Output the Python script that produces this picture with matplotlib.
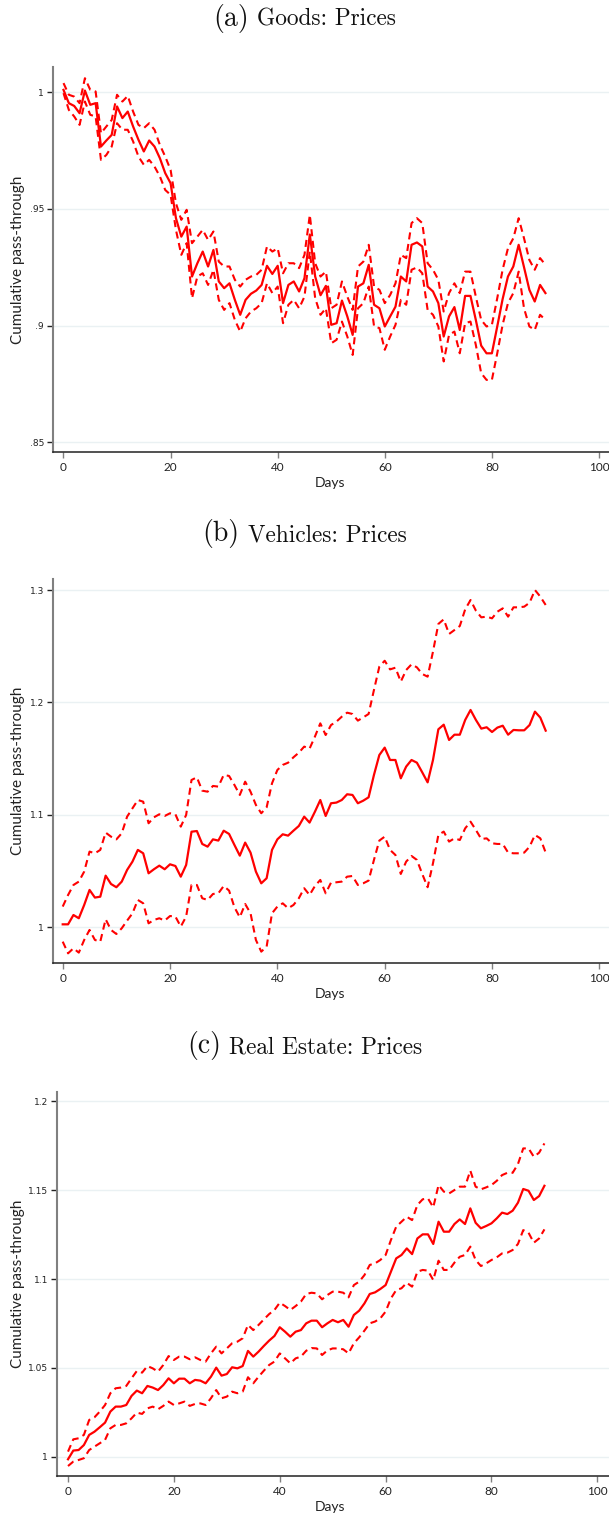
import numpy as np
import matplotlib
matplotlib.use("Agg")
import matplotlib.pyplot as plt

days = np.arange(91)

# ---- Panel (a) Goods: Prices ----
goods_est = [1.001, 0.9953, 0.9941, 0.991, 1.0007, 0.9946, 0.9953, 0.9767, 0.9793, 0.9817,
             0.9939, 0.9889, 0.9917, 0.9853, 0.9796, 0.9746, 0.9793, 0.9767, 0.9717, 0.9653,
             0.961, 0.946, 0.9381, 0.9424, 0.921, 0.9267, 0.9317, 0.9253, 0.9324, 0.9189,
             0.916, 0.9181, 0.911, 0.9046, 0.911, 0.9136, 0.915, 0.9174, 0.9256, 0.9221,
             0.9256, 0.9096, 0.9174, 0.9189, 0.9146, 0.9203, 0.939, 0.921, 0.913, 0.917,
             0.9003, 0.901, 0.9107, 0.9039, 0.896, 0.9167, 0.9181, 0.926, 0.9089, 0.9074,
             0.8996, 0.9039, 0.9081, 0.921, 0.9189, 0.9346, 0.9356, 0.9339, 0.9167, 0.9146,
             0.9096, 0.8953, 0.9039, 0.9079, 0.8981, 0.9127, 0.9127, 0.9024, 0.8914, 0.8881,
             0.8881, 0.8996, 0.9113, 0.921, 0.9253, 0.9346, 0.925, 0.9153, 0.9103, 0.9174,
             0.9139]
goods_hi = [1.0039, 0.9989, 0.9981, 0.9953, 1.006, 1.001, 1.0003, 0.9824, 0.9853, 0.9881,
            0.9989, 0.996, 0.9984, 0.9917, 0.986, 0.9846, 0.9867, 0.9839, 0.9774, 0.9724,
            0.9667, 0.9524, 0.9453, 0.9496, 0.9353, 0.9381, 0.941, 0.9367, 0.9403, 0.9274,
            0.9253, 0.9253, 0.9196, 0.9167, 0.9196, 0.921, 0.9217, 0.9239, 0.9339, 0.9317,
            0.9331, 0.9224, 0.9267, 0.9267, 0.9246, 0.9303, 0.9474, 0.9267, 0.921, 0.9231,
            0.9074, 0.9089, 0.9189, 0.9124, 0.9067, 0.9253, 0.9274, 0.9346, 0.9167, 0.9153,
            0.9096, 0.9131, 0.9181, 0.9303, 0.9289, 0.9439, 0.946, 0.9439, 0.9267, 0.9239,
            0.9196, 0.906, 0.9139, 0.9181, 0.9139, 0.9231, 0.9231, 0.9124, 0.9024, 0.8996,
            0.9003, 0.9117, 0.9239, 0.9331, 0.9374, 0.946, 0.9374, 0.9281, 0.9239, 0.9289,
            0.926]
goods_lo = [0.9996, 0.9924, 0.9896, 0.986, 0.996, 0.9903, 0.9896, 0.971, 0.9731, 0.9767,
            0.9867, 0.9839, 0.9839, 0.9789, 0.9724, 0.9689, 0.971, 0.9681, 0.9639, 0.9581,
            0.956, 0.941, 0.9303, 0.9353, 0.9117, 0.921, 0.9224, 0.9174, 0.9239, 0.911,
            0.9067, 0.9096, 0.9024, 0.8974, 0.9031, 0.906, 0.9074, 0.9096, 0.9181, 0.9139,
            0.9167, 0.901, 0.9089, 0.911, 0.9074, 0.9124, 0.9317, 0.9117, 0.9046, 0.9074,
            0.8924, 0.8939, 0.9017, 0.8953, 0.8874, 0.9074, 0.9096, 0.9167, 0.8996, 0.8989,
            0.8896, 0.8953, 0.9003, 0.911, 0.9089, 0.9239, 0.9249, 0.9224, 0.9067, 0.9046,
            0.8996, 0.8846, 0.896, 0.8974, 0.8881, 0.901, 0.9017, 0.8917, 0.8796, 0.8767,
            0.8767, 0.8881, 0.9003, 0.9096, 0.9139, 0.9231, 0.9074, 0.8996, 0.8981, 0.9046,
            0.9024]

# ---- Panel (b) Vehicles: Prices ----
veh_est = [1.0026, 1.0026, 1.0109, 1.008, 1.0198, 1.0332, 1.0264, 1.0272, 1.0459, 1.0385,
           1.0356, 1.0406, 1.051, 1.0584, 1.0688, 1.0658, 1.048, 1.0516, 1.0548, 1.0516,
           1.056, 1.0545, 1.045, 1.0554, 1.085, 1.0856, 1.0741, 1.0717, 1.0782, 1.0771,
           1.0859, 1.083, 1.0732, 1.0637, 1.0753, 1.0664, 1.0495, 1.0391, 1.0436, 1.0688,
           1.0782, 1.0827, 1.0815, 1.0859, 1.0901, 1.0984, 1.0931, 1.1028, 1.1132, 1.099,
           1.1103, 1.1109, 1.1132, 1.1183, 1.1177, 1.1103, 1.1126, 1.1156, 1.1355, 1.1532,
           1.1598, 1.1488, 1.1488, 1.1325, 1.1429, 1.1488, 1.1464, 1.1378, 1.1289, 1.1488,
           1.1761, 1.1802, 1.1666, 1.1713, 1.1713, 1.1844, 1.1933, 1.1844, 1.1767, 1.1779,
           1.1737, 1.1776, 1.1793, 1.1713, 1.1755, 1.1752, 1.1752, 1.1799, 1.1918, 1.1865,
           1.1749]
veh_hi = [1.0184, 1.0287, 1.0376, 1.0406, 1.0495, 1.0673, 1.0658, 1.0688, 1.0842, 1.0806,
          1.0782, 1.0836, 1.0984, 1.1058, 1.1132, 1.1117, 1.0925, 1.0978, 1.1005, 1.099,
          1.1014, 1.1005, 1.0895, 1.0999, 1.131, 1.1334, 1.1215, 1.1206, 1.1257, 1.1251,
          1.1355, 1.1346, 1.1266, 1.1177, 1.1295, 1.1206, 1.1088, 1.1014, 1.1067, 1.128,
          1.1399, 1.1444, 1.1464, 1.1512, 1.1553, 1.1607, 1.1589, 1.1696, 1.1814, 1.171,
          1.1799, 1.1829, 1.1873, 1.1909, 1.1897, 1.1838, 1.1867, 1.1897, 1.2111, 1.2318,
          1.2371, 1.2294, 1.2309, 1.2185, 1.2288, 1.2339, 1.2312, 1.2253, 1.2229, 1.2452,
          1.2698, 1.2739, 1.2609, 1.2644, 1.268, 1.2828, 1.2911, 1.2816, 1.2757, 1.2763,
          1.2748, 1.2807, 1.2837, 1.2763, 1.2846, 1.2846, 1.2852, 1.2887, 1.3, 1.2941,
          1.2867]
veh_lo = [0.9872, 0.9768, 0.9813, 0.9774, 0.9887, 0.9976, 0.9887, 0.9872, 1.0071, 0.9976,
          0.994, 0.9991, 1.0059, 1.0124, 1.0243, 1.0213, 1.0035, 1.0065, 1.008, 1.0059,
          1.01, 1.0095, 1.0006, 1.0095, 1.0376, 1.0376, 1.0258, 1.0243, 1.0296, 1.0302,
          1.0367, 1.0326, 1.0178, 1.0089, 1.0207, 1.0124, 0.9887, 0.9783, 0.9828, 1.0124,
          1.0184, 1.0213, 1.0169, 1.0198, 1.0258, 1.0347, 1.0287, 1.0367, 1.0421, 1.0302,
          1.0397, 1.04, 1.0406, 1.045, 1.0456, 1.0376, 1.0391, 1.0415, 1.0599, 1.0771,
          1.0806, 1.0688, 1.0643, 1.0474, 1.0584, 1.0634, 1.0599, 1.0474, 1.0356, 1.0569,
          1.0821, 1.0851, 1.0762, 1.0791, 1.0776, 1.088, 1.0939, 1.0865, 1.0785, 1.0791,
          1.0747, 1.0741, 1.0741, 1.0664, 1.0658, 1.0658, 1.0664, 1.0717, 1.0821, 1.0791,
          1.0664]

# ---- Panel (c) Real Estate: Prices ----
re_est = [0.9987, 1.0036, 1.0039, 1.0067, 1.0124, 1.0142, 1.0167, 1.0193, 1.0255, 1.0283,
          1.0283, 1.0292, 1.0343, 1.0373, 1.0358, 1.0399, 1.039, 1.0376, 1.0404, 1.0442,
          1.0414, 1.044, 1.044, 1.0414, 1.0433, 1.0429, 1.0414, 1.0451, 1.0502, 1.0457,
          1.0466, 1.0504, 1.0498, 1.0511, 1.0596, 1.0564, 1.0592, 1.0624, 1.0654, 1.068,
          1.0729, 1.0704, 1.0676, 1.0704, 1.0713, 1.0751, 1.0766, 1.0766, 1.0729, 1.0751,
          1.077, 1.0757, 1.077, 1.0732, 1.0798, 1.0822, 1.0863, 1.0916, 1.0925, 1.0944,
          1.0966, 1.1041, 1.1116, 1.1135, 1.1172, 1.114, 1.1228, 1.1251, 1.1251, 1.1197,
          1.1322, 1.1266, 1.1266, 1.1309, 1.1335, 1.1309, 1.1397, 1.1316, 1.1285, 1.1298,
          1.1313, 1.1341, 1.1373, 1.1365, 1.1384, 1.1429, 1.1506, 1.1496, 1.1444, 1.1466,
          1.1524]
re_hi = [1.003, 1.0099, 1.0105, 1.0124, 1.0208, 1.0223, 1.0255, 1.0292, 1.0358, 1.0386,
         1.039, 1.0399, 1.0442, 1.0483, 1.0474, 1.0511, 1.0498, 1.0479, 1.0517, 1.0567,
         1.0545, 1.0564, 1.0564, 1.0549, 1.056, 1.0545, 1.0536, 1.0582, 1.062, 1.0582,
         1.061, 1.0639, 1.0648, 1.0667, 1.0742, 1.0713, 1.0742, 1.0773, 1.0803, 1.0826,
         1.0867, 1.0848, 1.0826, 1.0848, 1.0873, 1.0916, 1.0923, 1.0919, 1.0886, 1.091,
         1.0929, 1.0929, 1.0923, 1.0897, 1.0966, 1.0985, 1.1022, 1.1079, 1.1088, 1.1107,
         1.1135, 1.1219, 1.1294, 1.1322, 1.135, 1.1331, 1.1416, 1.1448, 1.1453, 1.1403,
         1.1528, 1.1491, 1.1481, 1.15, 1.1519, 1.1519, 1.1609, 1.1519, 1.1504, 1.1515,
         1.1528, 1.1552, 1.1584, 1.1597, 1.1597, 1.1646, 1.1734, 1.1734, 1.1687, 1.171,
         1.1762]
re_lo = [0.9949, 0.9974, 0.9983, 0.9993, 1.0039, 1.0058, 1.0077, 1.0096, 1.0161, 1.018,
         1.018, 1.0189, 1.0217, 1.0249, 1.0242, 1.0273, 1.0283, 1.0268, 1.0287, 1.0311,
         1.0292, 1.0301, 1.0311, 1.0287, 1.0298, 1.0301, 1.0292, 1.033, 1.0376, 1.033,
         1.0339, 1.0367, 1.0358, 1.0367, 1.0448, 1.0414, 1.0451, 1.0485, 1.0517, 1.0536,
         1.0582, 1.0554, 1.0526, 1.0554, 1.0564, 1.0597, 1.0612, 1.061, 1.0573, 1.0599,
         1.061, 1.061, 1.0605, 1.0582, 1.0639, 1.0672, 1.071, 1.0751, 1.0761, 1.0779,
         1.0817, 1.0891, 1.0938, 1.0948, 1.0979, 1.0957, 1.1041, 1.1051, 1.1047, 1.0994,
         1.1103, 1.1051, 1.1051, 1.1092, 1.1125, 1.1135, 1.1182, 1.1107, 1.1073, 1.1088,
         1.1107, 1.1122, 1.1144, 1.1148, 1.1163, 1.1197, 1.1275, 1.126, 1.1204, 1.1228,
         1.1279]

panel_labels = ["(a)", "(b)", "(c)"]
panel_titles = ["Goods: Prices", "Vehicles: Prices", "Real Estate: Prices"]
x_ticks = [0, 20, 40, 60, 80, 100]
y_ticks = [[0.85, 0.9, 0.95, 1.0], [1.0, 1.1, 1.2, 1.3], [1.0, 1.05, 1.1, 1.15, 1.2]]
y_ticklabels = [[".85", ".9", ".95", "1"], ["1", "1.1", "1.2", "1.3"],
                ["1", "1.05", "1.1", "1.15", "1.2"]]
series = [(goods_est, goods_lo, goods_hi), (veh_est, veh_lo, veh_hi), (re_est, re_lo, re_hi)]

W, H = 609, 1517
fig = plt.figure(figsize=(W / 100, H / 100), dpi=100)

# axes boxes in pixels: left, right, top, bottom
boxes = [(53, 609, 67, 452), (53, 609, 579, 963), (57, 609, 1092, 1476)]
xlims = [(-1.96, 101.87), (-1.81, 101.8), (-2.08, 102.2)]
ylims = [(0.8458, 1.0108), (0.9682, 1.3098), (0.9893, 1.2051)]
title_y = [26, 541, 1053]  # baseline pixels

RED = "#ff0000"
tick_font = "Lato"

for i in range(3):
    l, r, t, b = boxes[i]
    ax = fig.add_axes([l / W, 1 - b / H, (r - l) / W, (b - t) / H])
    est, lo, hi = series[i]
    ax.plot(days, hi, color=RED, lw=1.5, ls=(0, (3.4, 2.2)))
    ax.plot(days, lo, color=RED, lw=1.5, ls=(0, (3.4, 2.2)))
    ax.plot(days, est, color=RED, lw=1.6, ls="-")
    ax.set_xlim(*xlims[i])
    ax.set_ylim(*ylims[i])
    ax.set_xticks(x_ticks)
    ax.set_xticklabels([str(v) for v in x_ticks], fontfamily=tick_font, fontsize=8.5)
    ax.set_yticks(y_ticks[i])
    ax.set_yticklabels(y_ticklabels[i], fontfamily="DejaVu Sans", fontsize=6.5)
    ax.yaxis.grid(True, color="#eaf1f3", lw=1.0)
    ax.set_axisbelow(True)
    for s in ("top", "right"):
        ax.spines[s].set_visible(False)
    ax.spines["left"].set_color("#808080")
    ax.spines["left"].set_linewidth(1.5)
    ax.spines["bottom"].set_color("#222222")
    ax.spines["bottom"].set_linewidth(1.1)
    ax.tick_params(axis="x", length=4.5, width=1.0, color="#808080", pad=2.5, labelcolor="#222222")
    ax.tick_params(axis="y", length=4, width=1.0, color="#222222", pad=2.5, labelcolor="#222222")
    ax.set_ylabel("Cumulative pass-through", fontfamily=tick_font, fontsize=11, color="#222222")
    ax.yaxis.set_label_coords((25 - l) / (r - l), 0.5)
    ax.set_xlabel("Days", fontfamily=tick_font, fontsize=10, color="#222222")
    ax.xaxis.set_label_coords(((63 + 598) / 2 - l) / (r - l), -25 / (b - t))

    # Title: larger "(a)" label + caption text, centred on the figure
    renderer = fig.canvas.get_renderer()
    t1 = fig.text(0, 1 - title_y[i] / H, panel_labels[i], fontfamily="cmr10", fontsize=20,
                  va="baseline", ha="left", color="#111111")
    t2 = fig.text(0, 1 - title_y[i] / H, panel_titles[i], fontfamily="cmr10", fontsize=16.8,
                  va="baseline", ha="left", color="#111111")
    w1 = t1.get_window_extent(renderer).width
    w2 = t2.get_window_extent(renderer).width
    gap = 8
    x0 = W / 2 - (w1 + gap + w2) / 2
    t1.set_x(x0 / W)
    t2.set_x((x0 + w1 + gap) / W)

fig.savefig("out.png", dpi=100)
